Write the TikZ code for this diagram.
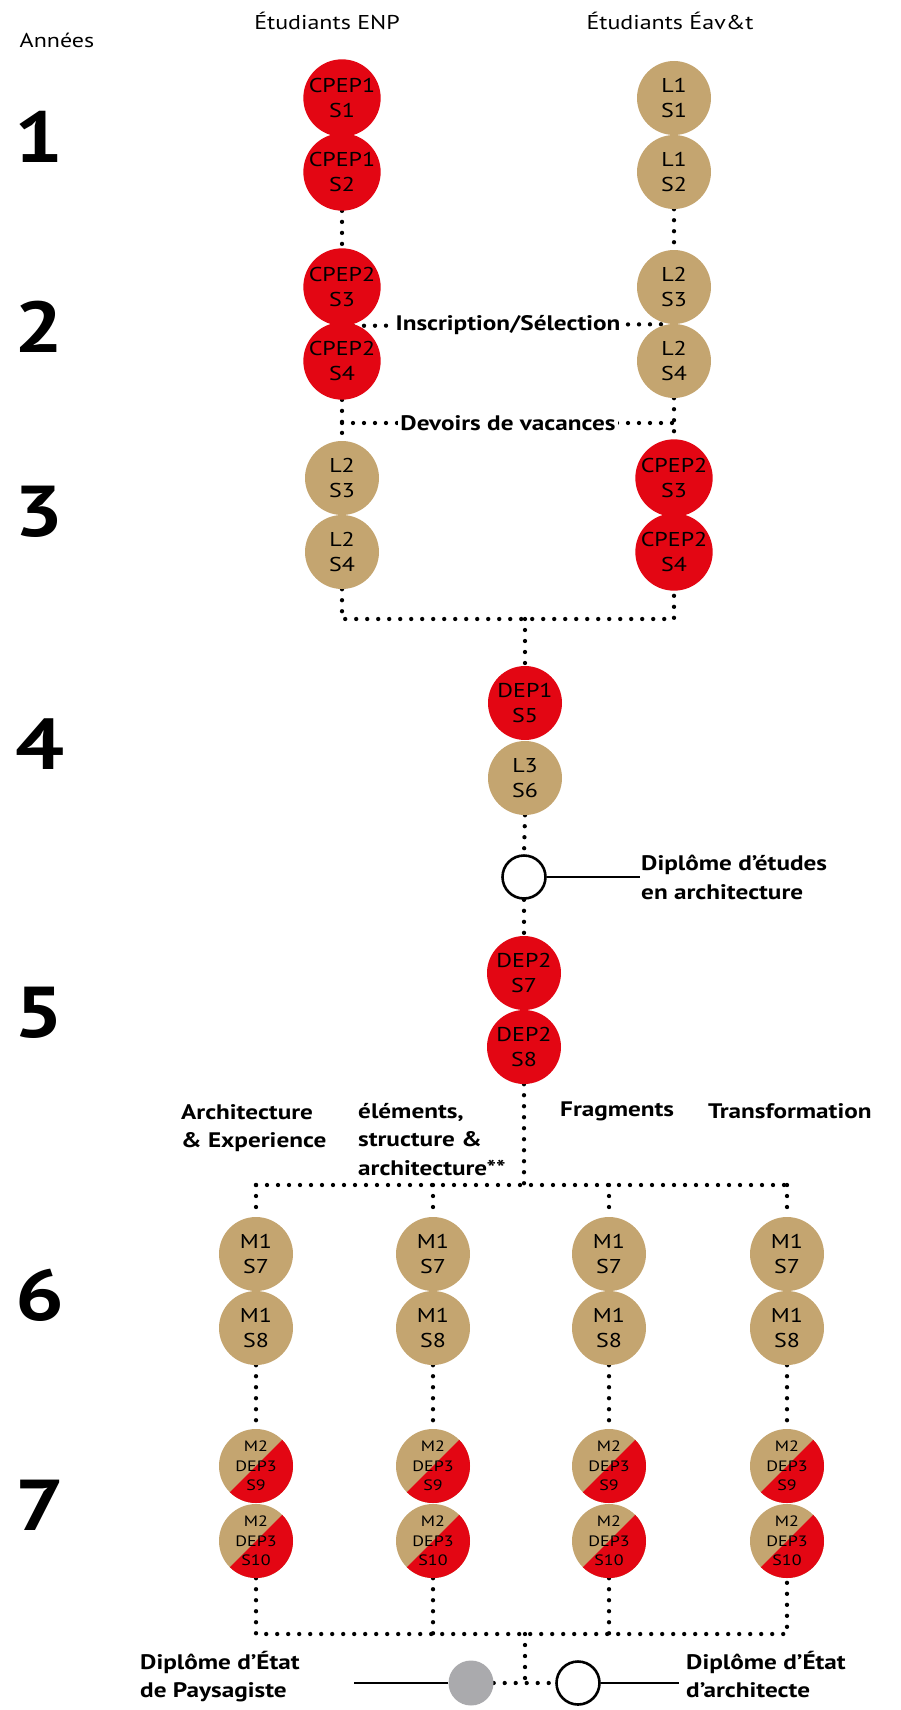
\documentclass[tikz,border=0pt]{standalone}
\usepackage{fontspec}
\setmainfont{PT Sans}[FakeStretch=1.2]
\usetikzlibrary{backgrounds}
\definecolor{enpred}{RGB}{227,6,19}
\definecolor{eavtan}{RGB}{196,165,112}
\definecolor{diplgray}{RGB}{170,170,173}

\begin{document}
\begin{tikzpicture}[
  x=1pt, y=-1pt,
  sem/.style   = {circle, minimum size=74pt, inner sep=0pt, align=center,
                  font=\fontsize{20}{25}\selectfont},
  enp/.style   = {sem, fill=enpred},
  eav/.style   = {sem, fill=eavtan},
  mix/.style   = {sem, fill=eavtan, font=\fontsize{15}{19.5}\selectfont,
                  path picture={\fill[enpred] (path picture bounding box.center)
                    ++(45:40pt) -- ++(225:80pt) -- ++(-45:40pt) -- ++(45:80pt) -- cycle;}},
  dipl/.style  = {circle, minimum size=43pt, inner sep=0pt, draw=black,
                  line width=2.6pt, fill=white},
  dots/.style  = {line width=4.3pt, line cap=round, dash pattern=on 0pt off 11pt},
  trait/.style = {line width=2.6pt},
  lab/.style   = {font=\bfseries\fontsize{21}{28.5}\selectfont, fill=white, inner sep=2pt},
  txt/.style   = {font=\bfseries\fontsize{21}{28.5}\selectfont, align=left,
                  anchor=north west, inner sep=0pt},
  yr/.style    = {font=\bfseries\fontsize{72}{72}\selectfont, inner sep=0pt},
  head/.style  = {font=\fontsize{20}{24}\selectfont, inner sep=0pt}
]
\useasboundingbox (0,0) rectangle (901,1710);

% --- En-têtes et années -------------------------------------------------------
\node[head] (hann) at (57,40)  {Années};
\node[head] (henp) at (327,21) {Étudiants ENP};
\node[head] (heav) at (670,21) {Étudiants Éav\&t};
\node[yr] (y1) at (39,137)  {1};
\node[yr] (y2) at (39,327)  {2};
\node[yr] (y3) at (39,512)  {3};
\node[yr] (y4) at (40,744)  {4};
\node[yr] (y5) at (39,1013) {5};
\node[yr] (y6) at (40,1295) {6};
\node[yr] (y7) at (40,1505) {7};

% --- Colonne ENP --------------------------------------------------------------
\node[enp] (g1) at (342,98)  {CPEP1\\S1};
\node[enp] (g2) at (342,172) {CPEP1\\S2};
\node[enp] (g3) at (342,287) {CPEP2\\S3};
\node[enp] (g4) at (342,361) {CPEP2\\S4};
\node[eav] (g5) at (342,478) {L2\\S3};
\node[eav] (g6) at (342,552) {L2\\S4};

% --- Colonne Éav&t ------------------------------------------------------------
\node[eav] (d1) at (674,98)  {L1\\S1};
\node[eav] (d2) at (674,172) {L1\\S2};
\node[eav] (d3) at (674,287) {L2\\S3};
\node[eav] (d4) at (674,361) {L2\\S4};
\node[enp] (d5) at (674,478) {CPEP2\\S3};
\node[enp] (d6) at (674,552) {CPEP2\\S4};

% --- Tronc commun -------------------------------------------------------------
\node[enp]  (dep1)  at (525,703)  {DEP1\\S5};
\node[eav]  (lic3)  at (525,778)  {L3\\S6};
\node[dipl] (dea)   at (524,877)  {};
\node[enp]  (dep2a) at (524,973)  {DEP2\\S7};
\node[enp]  (dep2b) at (524,1047) {DEP2\\S8};
\node[txt]  (tdea)  at (641,855)  {Diplôme d’études\\en architecture};

% --- Domaines d'études ----------------------------------------------------------
\node[txt] (ta) at (181,1104) {Architecture\\\& Experience};
\node[txt] (tb) at (358,1103) {éléments,\\structure \&\\architecture**};
\node[txt] (tc) at (560,1102) {Fragments};
\node[txt] (te) at (708,1103) {Transformation};

\node[eav] (a7)  at (256,1254) {M1\\S7};
\node[eav] (a8)  at (256,1328) {M1\\S8};
\node[mix] (a9)  at (256,1466) {M2\\DEP3\\S9};
\node[mix] (a10) at (256,1541) {M2\\DEP3\\S10};
\node[eav] (b7)  at (433,1254) {M1\\S7};
\node[eav] (b8)  at (433,1328) {M1\\S8};
\node[mix] (b9)  at (433,1466) {M2\\DEP3\\S9};
\node[mix] (b10) at (433,1541) {M2\\DEP3\\S10};
\node[eav] (c7)  at (609,1254) {M1\\S7};
\node[eav] (c8)  at (609,1328) {M1\\S8};
\node[mix] (c9)  at (609,1466) {M2\\DEP3\\S9};
\node[mix] (c10) at (609,1541) {M2\\DEP3\\S10};
\node[eav] (e7)  at (787,1254) {M1\\S7};
\node[eav] (e8)  at (787,1328) {M1\\S8};
\node[mix] (e9)  at (787,1466) {M2\\DEP3\\S9};
\node[mix] (e10) at (787,1541) {M2\\DEP3\\S10};

% --- Diplômes d'État ------------------------------------------------------------
\node[circle, minimum size=45pt, inner sep=0pt, fill=diplgray] (dep) at (471,1683) {};
\node[dipl] (dea2) at (578,1683) {};
\node[txt] (tpay)  at (140,1651) {Diplôme d’État\\de Paysagiste};
\node[txt] (tarch) at (686,1651) {Diplôme d’État\\d’architecte};

% --- Points de jonction -----------------------------------------------------------
\coordinate (jv)  at (342,423);
\coordinate (jv2) at (674,423);
\coordinate (jl)  at (342,619);
\coordinate (jr)  at (674,619);
\coordinate (jm)  at (525,619);
\coordinate (jt)  at (524,1185);
\coordinate (ja)  at (256,1185);
\coordinate (jb)  at (433,1185);
\coordinate (jc)  at (609,1185);
\coordinate (je)  at (787,1185);
\coordinate (ka)  at (256,1634);
\coordinate (kb)  at (433,1634);
\coordinate (kc)  at (609,1634);
\coordinate (ke)  at (787,1634);
\coordinate (kt)  at (525,1634);
\coordinate (kd)  at (525,1683);
\coordinate (deaend)  at (640,877);
\coordinate (payend)  at (354,1683);
\coordinate (archend) at (679,1683);

% --- Liaisons -------------------------------------------------------------------
\begin{scope}[on background layer]
\draw[dots] (g2.south) -- (g3.north);
\draw[dots] (d2.south) -- (d3.north);
\draw[dots] (g3.south) -- node[lab]{Inscription/Sélection} (d3.south);
\draw[dots] (g4.south) -- (g5.north);
\draw[dots] (d4.south) -- (d5.north);
\draw[dots] (jv) -- node[lab]{Devoirs de vacances} (jv2);
\draw[dots] (g6.south) -- (jl) -- (jr) -- (d6.south);
\draw[dots] (jm) -- (dep1.north);
\draw[dots] (lic3.south) -- (dea.north);
\draw[dots] (dea.south) -- (dep2a.north);
\draw[dots] (dep2b.south) -- (jt);
\draw[dots] (ja) -- (je);
\draw[dots] (ja) -- (a7.north);
\draw[dots] (jb) -- (b7.north);
\draw[dots] (jc) -- (c7.north);
\draw[dots] (je) -- (e7.north);
\draw[dots] (a8.south) -- (a9.north);
\draw[dots] (b8.south) -- (b9.north);
\draw[dots] (c8.south) -- (c9.north);
\draw[dots] (e8.south) -- (e9.north);
\draw[dots] (a10.south) -- (ka) -- (ke) -- (e10.south);
\draw[dots] (b10.south) -- (kb);
\draw[dots] (c10.south) -- (kc);
\draw[dots] (kt) -- (kd);
\draw[dots] (dep.east) -- (dea2.west);
\end{scope}
\draw[trait] (dea.east) -- (deaend);
\draw[trait] (dep.west) -- (payend);
\draw[trait] (dea2.east) -- (archend);

\end{tikzpicture}
\end{document}
